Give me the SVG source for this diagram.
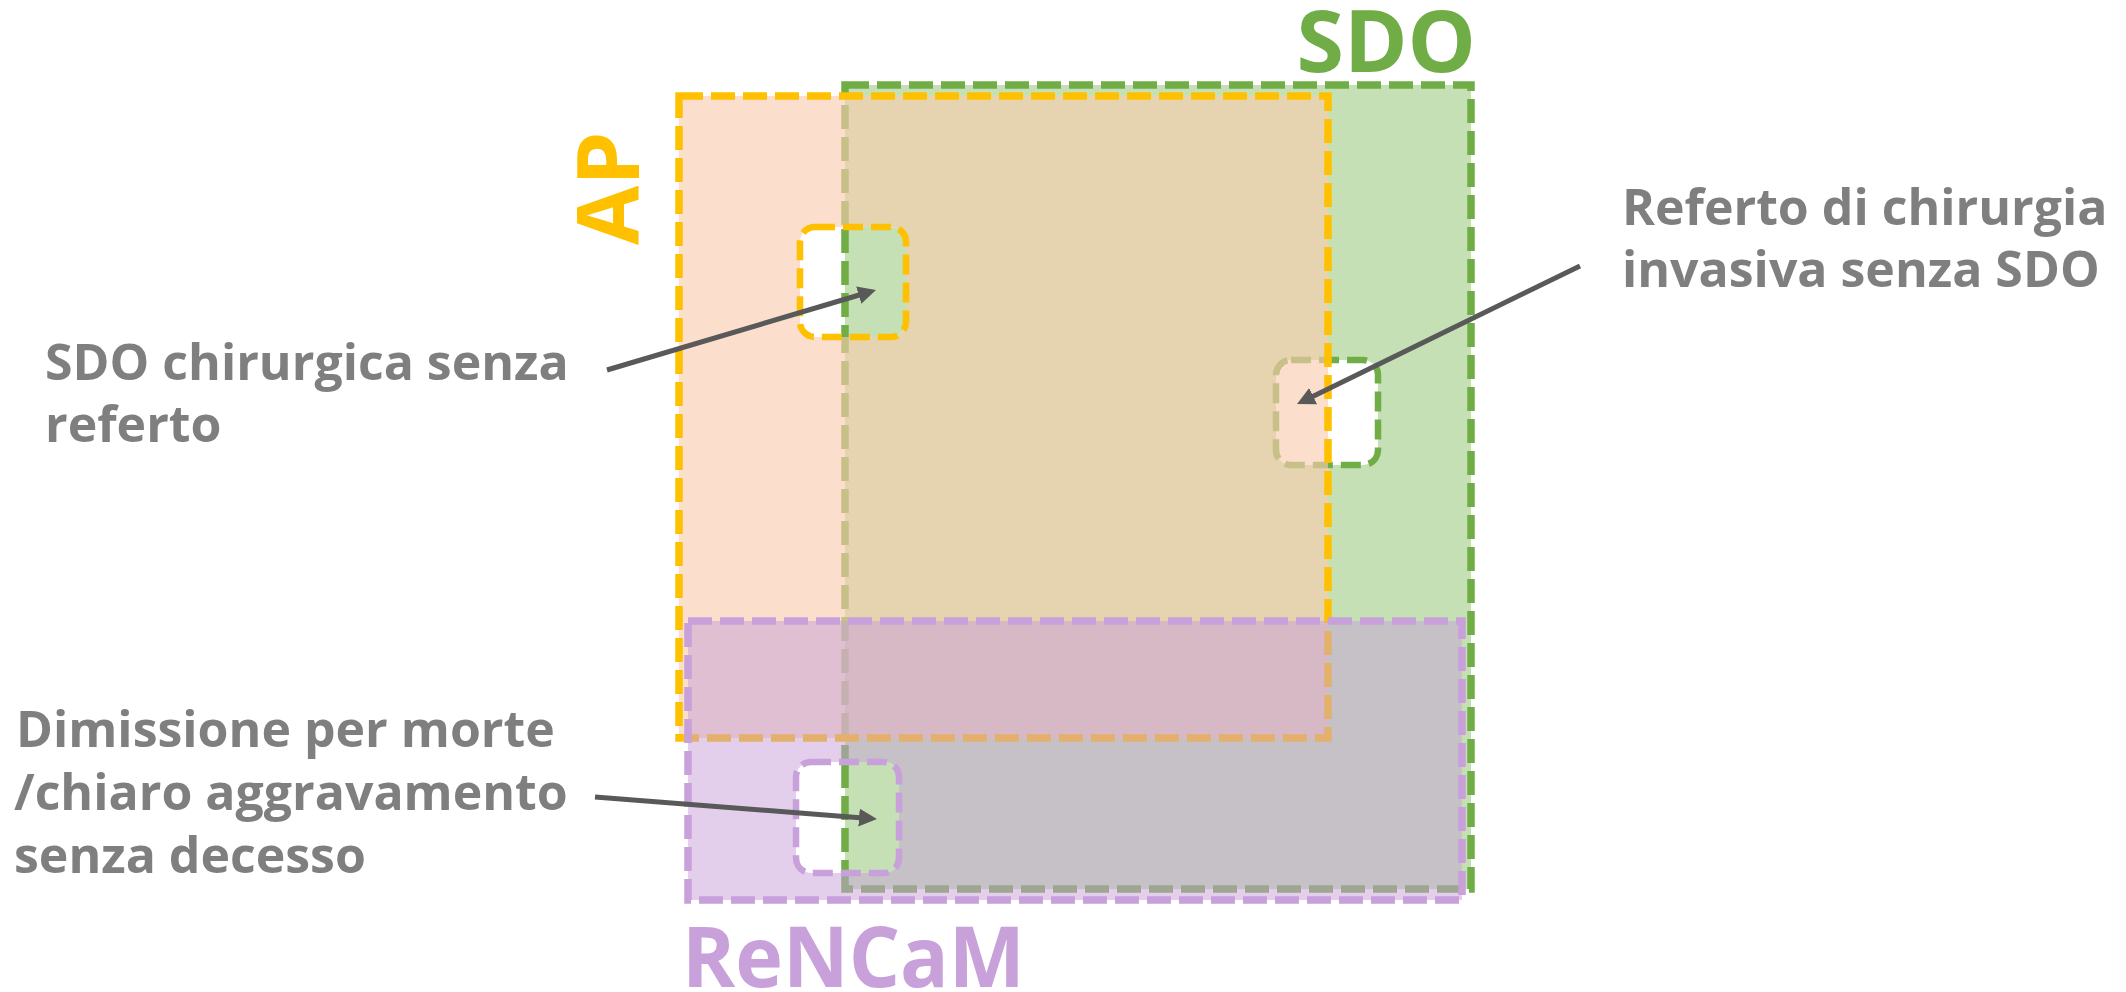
<svg xmlns="http://www.w3.org/2000/svg" width="2126" height="992" viewBox="0 0 2126 992">
  <style>
    .lbl { font-family: "Open Sans", "Noto Sans", "Liberation Sans", sans-serif; font-weight: 700; }
    .note { font-family: "Open Sans", "Noto Sans", "Liberation Sans", sans-serif; font-weight: 700; font-size: 50px; fill: #7F7F7F; }
    .dash { stroke-dasharray: 24 8; fill: none; }
    .bdash { stroke-dasharray: 20 8; fill: none; }
    .conn { stroke: #595959; stroke-width: 5; fill: none; marker-end: url(#arrow); }
  </style>
  <defs>
    <marker id="arrow" markerUnits="userSpaceOnUse" markerWidth="20" markerHeight="18" viewBox="0 0 20 18" refX="4" refY="9" orient="auto">
      <path d="M0,0 L18,9 L0,18 z" fill="#595959"/>
    </marker>
    <clipPath id="clip1"><rect x="800" y="227" width="106" height="110" rx="15"/></clipPath>
    <clipPath id="clip3"><rect x="796" y="762" width="103" height="111" rx="15"/></clipPath>
  </defs>

  <rect width="2126" height="992" fill="#FFFFFF"/>

  <!-- SDO set -->
  <g id="node-sdo">
    <rect x="845" y="85" width="626" height="804" fill="#C5E0B4"/>
    <rect class="dash" x="845" y="85" width="626" height="804" stroke="#70AD47" stroke-width="7.5"/>
    <text class="lbl" x="1476" y="72" font-size="86" fill="#70AD47" text-anchor="end">SDO</text>
  </g>

  <!-- Referto senza SDO (hole in SDO) -->
  <g id="node-referto-senza-sdo">
    <rect x="1276" y="360" width="102" height="105" rx="15" fill="#FFFFFF"/>
    <rect class="bdash" x="1276" y="360" width="102" height="105" rx="15" stroke="#70AD47" stroke-width="6.5"/>
  </g>

  <!-- AP set -->
  <g id="node-ap">
    <rect x="679" y="96" width="649" height="642" fill="#F8CBAD" fill-opacity="0.64"/>
    <rect class="dash" x="679" y="96" width="649" height="642" stroke="#FFC000" stroke-width="7.5"/>
    <text class="lbl" transform="translate(639,245) rotate(-90)" font-size="86" fill="#FFC000">AP</text>
  </g>

  <!-- SDO chirurgica senza referto (hole in AP) -->
  <g id="node-sdo-senza-referto">
    <g clip-path="url(#clip1)">
      <rect x="800" y="227" width="106" height="110" fill="#FFFFFF"/>
      <rect x="845" y="227" width="61" height="110" fill="#C5E0B4"/>
    </g>
    <line class="dash" x1="845" y1="229" x2="845" y2="337" stroke="#70AD47" stroke-width="7.5"/>
    <rect class="bdash" x="800" y="227" width="106" height="110" rx="15" stroke="#FFC000" stroke-width="6.5"/>
  </g>

  <!-- ReNCaM set -->
  <g id="node-rencam">
    <rect x="688" y="621" width="774" height="279" fill="#C8A0DA" fill-opacity="0.5"/>
    <rect class="dash" x="688" y="621" width="774" height="279" stroke="#C8A0DA" stroke-width="7.5"/>
    <text class="lbl" x="682" y="987" font-size="84" fill="#C8A0DA" textLength="343" lengthAdjust="spacingAndGlyphs">ReNCaM</text>
  </g>

  <!-- Dimissione per morte senza decesso (hole in ReNCaM) -->
  <g id="node-dimissione">
    <g clip-path="url(#clip3)">
      <rect x="796" y="762" width="103" height="111" fill="#FFFFFF"/>
      <rect x="845" y="762" width="54" height="111" fill="#C5E0B4"/>
    </g>
    <line class="dash" x1="845" y1="764" x2="845" y2="872" stroke="#70AD47" stroke-width="7.5"/>
    <rect class="bdash" x="796" y="762" width="103" height="111" rx="15" stroke="#C8A0DA" stroke-width="6.5"/>
  </g>

  <!-- connectors -->
  <g id="connectors">
    <line class="conn" x1="607" y1="370" x2="862.6" y2="294.0"/>
    <line class="conn" x1="1580" y1="266" x2="1309.6" y2="397.9"/>
    <line class="conn" x1="595" y1="797" x2="863.0" y2="817.9"/>
  </g>

  <!-- annotations -->
  <g id="label-sdo-senza-referto">
    <text class="note" x="45" y="380">SDO chirurgica senza</text>
    <text class="note" x="45" y="442">referto</text>
  </g>
  <g id="label-referto-senza-sdo">
    <text class="note" x="1622" y="225">Referto di chirurgia</text>
    <text class="note" x="1622" y="287">invasiva senza SDO</text>
  </g>
  <g id="label-dimissione">
    <text class="note" x="16" y="747">Dimissione per morte</text>
    <text class="note" x="14" y="810">/chiaro aggravamento</text>
    <text class="note" x="14" y="873">senza decesso</text>
  </g>
</svg>
